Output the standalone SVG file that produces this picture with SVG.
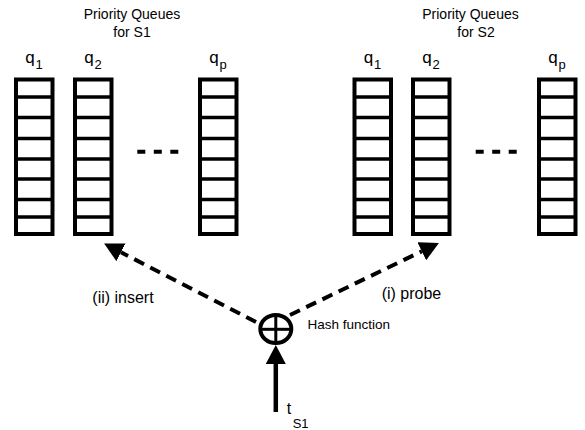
<svg xmlns="http://www.w3.org/2000/svg" xmlns:xlink="http://www.w3.org/1999/xlink" width="585" height="430" viewBox="0 0 585 430">
  <style>
    .t { font-family: "Liberation Sans", Arial, Helvetica, sans-serif; fill: #000; }
    .hdr { font-size: 14px; text-anchor: middle; }
    .ql { font-size: 17px; text-anchor: middle; }
    .sub { font-size: 13px; }
    .lbl { font-size: 16px; }
    .frame { fill: #fff; stroke: #000; stroke-width: 4; }
    .slot { stroke: #000; stroke-width: 3.5; }
    .dots { stroke: #000; stroke-width: 4; stroke-dasharray: 8 8.5; }
    .dash { fill: none; stroke: #000; stroke-width: 4; stroke-dasharray: 11 7; }
    .solid { fill: none; stroke: #000; stroke-width: 4.5; }
  </style>
  <defs>
    <!-- one priority queue: frame plus slot separators -->
    <g id="queue">
      <rect class="frame" x="0" y="79.5" width="36.5" height="154.5"/>
      <line class="slot" x1="0" x2="36.5" y1="97" y2="97"/>
      <line class="slot" x1="0" x2="36.5" y1="117.5" y2="117.5"/>
      <line class="slot" x1="0" x2="36.5" y1="138.5" y2="138.5"/>
      <line class="slot" x1="0" x2="36.5" y1="159" y2="159"/>
      <line class="slot" x1="0" x2="36.5" y1="179" y2="179"/>
      <line class="slot" x1="0" x2="36.5" y1="199.5" y2="199.5"/>
      <line class="slot" x1="0" x2="36.5" y1="217" y2="217"/>
    </g>
    <marker id="head" viewBox="0 0 19 20" refX="0" refY="10" markerWidth="19" markerHeight="20" markerUnits="userSpaceOnUse" orient="auto">
      <path d="M0,0 L19,10 L0,20 Z" fill="#000"/>
    </marker>
  </defs>

  <!-- queues for S1 -->
  <g id="s1-title">
    <text class="t hdr" x="132" y="19">Priority Queues</text>
    <text class="t hdr" x="132" y="36.5">for S1</text>
  </g>
  <g id="s1-q1">
    <use xlink:href="#queue" x="16"/>
    <text class="t ql" x="34" y="63">q<tspan class="sub" dx="1" dy="6">1</tspan></text>
  </g>
  <g id="s1-q2">
    <use xlink:href="#queue" x="75"/>
    <text class="t ql" x="93" y="63">q<tspan class="sub" dx="1" dy="6">2</tspan></text>
  </g>
  <g id="s1-qp">
    <use xlink:href="#queue" x="200"/>
    <text class="t ql" x="218" y="63">q<tspan class="sub" dx="1" dy="6">p</tspan></text>
  </g>
  <line class="dots" x1="137.3" y1="151.7" x2="178.5" y2="151.7"/>

  <!-- queues for S2 -->
  <g id="s2-title">
    <text class="t hdr" x="470.5" y="19">Priority Queues</text>
    <text class="t hdr" x="476" y="36.5">for S2</text>
  </g>
  <g id="s2-q1">
    <use xlink:href="#queue" x="354.5"/>
    <text class="t ql" x="372.5" y="63">q<tspan class="sub" dx="1" dy="6">1</tspan></text>
  </g>
  <g id="s2-q2">
    <use xlink:href="#queue" x="413"/>
    <text class="t ql" x="431" y="63">q<tspan class="sub" dx="1" dy="6">2</tspan></text>
  </g>
  <g id="s2-qp">
    <use xlink:href="#queue" x="539"/>
    <text class="t ql" x="557" y="63">q<tspan class="sub" dx="1" dy="6">p</tspan></text>
  </g>
  <line class="dots" x1="475.7" y1="151.7" x2="517" y2="151.7"/>

  <!-- hash function -->
  <g id="hash">
    <ellipse cx="275.8" cy="329" rx="15.5" ry="14" fill="#fff" stroke="#000" stroke-width="4"/>
    <line x1="275.8" y1="315" x2="275.8" y2="343" stroke="#000" stroke-width="3"/>
    <line x1="260.3" y1="329.3" x2="291.3" y2="329.3" stroke="#000" stroke-width="3"/>
    <text class="t" font-size="13.5" x="307.5" y="329">Hash function</text>
  </g>

  <!-- connectors -->
  <g id="connectors">
    <path class="dash" d="M256,322 L121,252.3" marker-end="url(#head)"/>
    <path class="dash" d="M290,315 L421.8,251.3" marker-end="url(#head)"/>
    <path class="solid" d="M275.8,412 L275.8,364" marker-end="url(#head)"/>
    <text class="t lbl" x="92.3" y="303">(ii) insert</text>
    <text class="t lbl" x="381.7" y="299">(i) probe</text>
    <text class="t lbl" x="286.7" y="414">t<tspan class="sub" font-size="13" dx="1.5" dy="14">S1</tspan></text>
  </g>
</svg>
